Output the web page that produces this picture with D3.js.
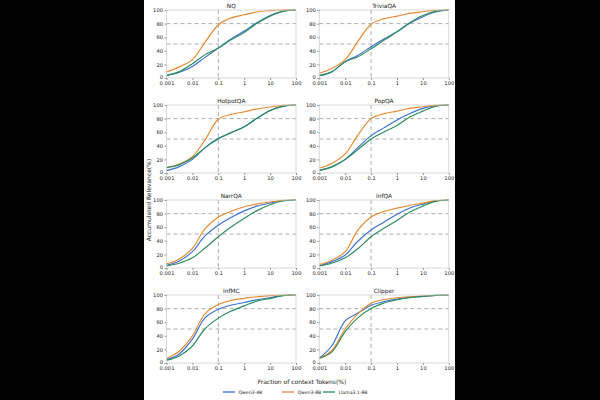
<!DOCTYPE html>
<html><head><meta charset="utf-8">
<script src="https://cdn.jsdelivr.net/npm/d3@7"></script>
<style>html,body{margin:0;padding:0;background:#000;}svg{display:block;}</style>
</head><body>
<script>
const xs = [0.001, 0.003, 0.01, 0.03, 0.1, 0.3, 1, 3, 10, 30, 100];
const datasets = ["NQ","TriviaQA","HotpotQA","PopQA","NarrQA","InfQA","InfMC","Clipper"];
const models = ["Qwen3-4B","Qwen3-8B","Llama3.1-8B"];
const colors = ["#3a6fd6","#e8882c","#2a8c5a"];
const xTicks = [0.001, 0.01, 0.1, 1, 10, 100];
const xTickLabels = ["0.001","0.01","0.1","1","10","100"];
const yTicks = [0,20,40,60,80,100];

const qwen4b = {
  NQ:       [3.5, 8, 17, 30, 44, 57, 69, 81, 92, 98, 100],
  TriviaQA: [3.5, 9, 24, 33, 46, 57, 68, 80, 90, 97, 100],
  HotpotQA: [3.5, 9, 20, 37, 51, 59, 68, 80, 92, 98, 100],
  PopQA:    [3.5, 9, 20, 37, 55, 66, 78, 87, 95, 99, 100],
  NarrQA:   [4, 10, 24, 47, 63, 74, 84, 91, 95.5, 99, 100],
  InfQA:    [3.5, 9, 19, 39, 56, 67, 79, 88, 94, 98.5, 100],
  InfMC:    [5, 13, 35, 66, 79, 85, 89, 93, 96, 99, 100],
  Clipper:  [7, 25, 62, 73, 85, 90, 94, 96.5, 98, 99.5, 100]
};
const qwen8b = {
  NQ:       [9, 16, 27, 52, 78, 88, 93, 97, 99, 100, 100],
  TriviaQA: [7, 14, 27, 53, 79, 87, 91, 95, 97.5, 99.5, 100],
  HotpotQA: [8, 13, 24, 48, 79, 86, 90, 94, 97, 99.5, 100],
  PopQA:    [7, 14, 28, 55, 80, 87, 91, 95, 97.5, 99.5, 100],
  NarrQA:   [6, 13, 29, 57, 75, 83, 90, 94, 97, 99.5, 100],
  InfQA:    [5, 11, 24, 55, 75, 83, 88, 92, 95.5, 99, 100],
  InfMC:    [7, 17, 40, 72, 86, 92, 95, 97.5, 99, 100, 100],
  Clipper:  [7, 18, 50, 72, 88, 93, 96, 97.5, 98.5, 99.5, 100]
};
const llama8b = {
  NQ:       [4, 9, 21, 34, 44, 56, 67, 80, 91, 98, 100],
  TriviaQA: [3.5, 9, 24, 31, 43, 55, 68, 81, 92, 98, 100],
  HotpotQA: [8, 12, 22, 37, 50, 59, 68, 80, 92, 98, 100],
  PopQA:    [4, 9, 20, 34, 50, 60, 70, 82, 91, 98, 100],
  NarrQA:   [3, 7, 15, 29, 46, 60, 73, 84, 93, 98.5, 100],
  InfQA:    [3, 7, 15, 28, 46, 58, 70, 82, 91, 98, 100],
  InfMC:    [4, 10, 25, 50, 66, 76, 84, 91, 95, 99, 100],
  Clipper:  [7, 16, 46, 66, 80, 88, 93, 96, 98, 99.5, 100]
};
const seriesByModel = [qwen4b, qwen8b, llama8b];

const W = 600, H = 400;
const FONT = "'DejaVu Sans', sans-serif";
const svg = d3.select("body").append("svg").attr("width", W).attr("height", H)
  .style("font-family", FONT);
svg.append("rect").attr("width", W).attr("height", H).attr("fill", "#000");
svg.append("rect").attr("x", 144).attr("y", 0).attr("width", 311).attr("height", H).attr("fill", "#fff");

const colLeft = [166.5, 319.3];
const rowTop = [10, 105, 200, 295];
const pw = 129.5, ph = 68;

datasets.forEach((name, i) => {
  const col = i % 2, row = Math.floor(i / 2);
  const g = svg.append("g").attr("transform", `translate(${colLeft[col]},${rowTop[row]})`);
  const x = d3.scaleLog().domain([0.001, 100]).range([0, pw]);
  const y = d3.scaleLinear().domain([0, 100]).range([ph, 0]);

  [50, 80].forEach(v => g.append("line").attr("x1", 0).attr("x2", pw).attr("y1", y(v)).attr("y2", y(v))
    .attr("stroke", "#9a9a9a").attr("stroke-width", 0.8).attr("stroke-dasharray", "4,3"));
  g.append("line").attr("x1", x(0.1)).attr("x2", x(0.1)).attr("y1", 0).attr("y2", ph)
    .attr("stroke", "#9a9a9a").attr("stroke-width", 0.8).attr("stroke-dasharray", "4,3");

  const line = d3.line().x((d, k) => x(xs[k])).y(d => y(d)).curve(d3.curveCatmullRom.alpha(0.5));
  seriesByModel.forEach((s, m) => {
    g.append("path").datum(s[name]).attr("d", line).attr("fill", "none")
      .attr("stroke", colors[m]).attr("stroke-width", 1.15);
  });

  g.append("rect").attr("width", pw).attr("height", ph).attr("fill", "none")
    .attr("stroke", "#d0d0d0").attr("stroke-width", 0.8);

  const xa = g.append("g").attr("transform", `translate(0,${ph})`)
    .call(d3.axisBottom(x).tickValues(xTicks).tickFormat((d, k) => xTickLabels[k]).tickSize(2).tickPadding(1.5));
  const ya = g.append("g")
    .call(d3.axisLeft(y).tickValues(yTicks).tickSize(2).tickPadding(1.5));
  [xa, ya].forEach(a => {
    a.select(".domain").remove();
    a.selectAll("line").attr("stroke", "#555").attr("stroke-width", 0.6);
    a.selectAll("text").attr("font-size", 5.2).attr("fill", "#222").attr("font-family", FONT);
  });
  ya.selectAll(".tick").filter(d => d === 0).select("text").attr("dy", "0.05em");

  g.append("text").attr("x", pw / 2).attr("y", -2.5).attr("text-anchor", "middle")
    .attr("font-size", 5.8).attr("fill", "#222").text(name);
});

svg.append("text").attr("transform", "translate(150.5,200) rotate(-90)").attr("text-anchor", "middle")
  .attr("font-size", 6).attr("fill", "#222").text("Accumulated Relevance(%)");
svg.append("text").attr("x", 302).attr("y", 384).attr("text-anchor", "middle")
  .attr("font-size", 6).attr("fill", "#222").text("Fraction of context Tokens(%)");

const legX = [223, 282, 323];
models.forEach((m, k) => {
  svg.append("line").attr("x1", legX[k]).attr("x2", legX[k] + 12).attr("y1", 392).attr("y2", 392)
    .attr("stroke", colors[k]).attr("stroke-width", 1.3);
  svg.append("text").attr("x", legX[k] + 15.5).attr("y", 393.7).attr("font-size", 4.6).attr("fill", "#222").text(m);
});
</script>
</body></html>
